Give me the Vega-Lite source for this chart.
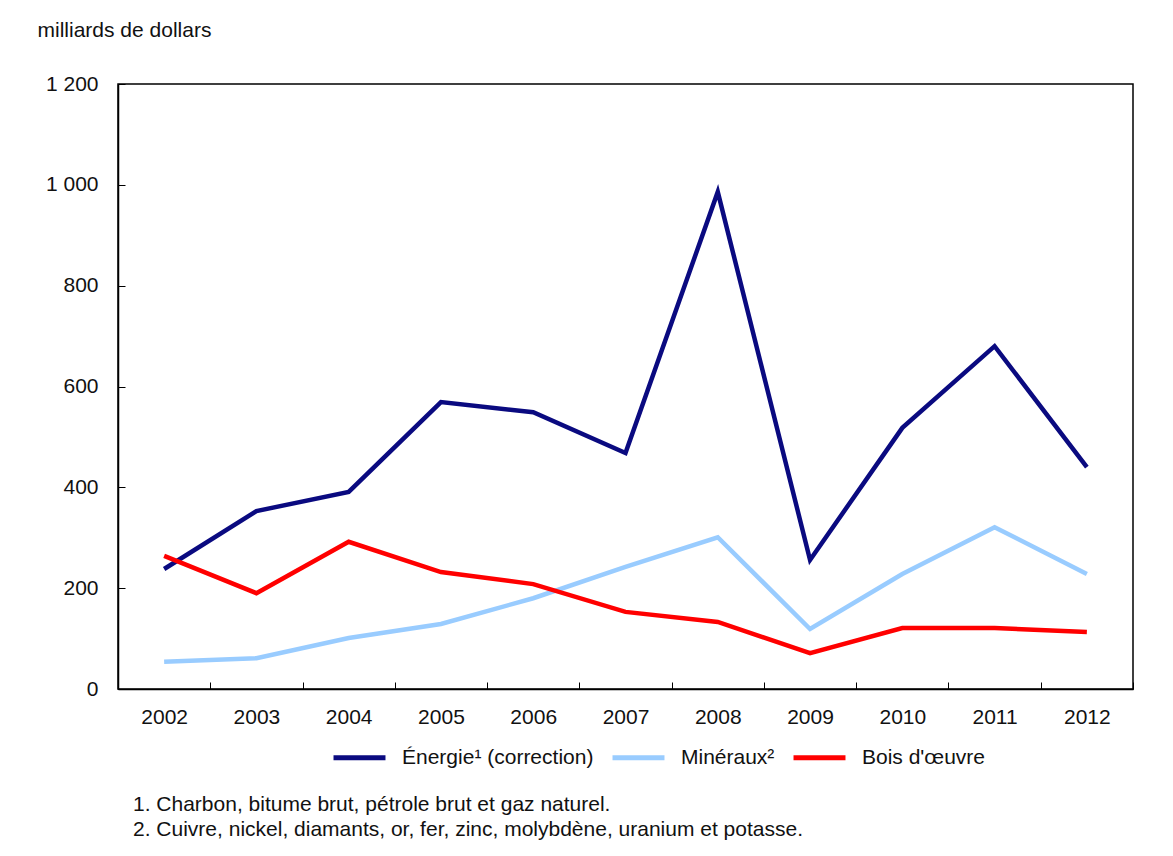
{
  "$schema": "https://vega.github.io/schema/vega-lite/v6.json",
  "width": 1015,
  "height": 605,
  "autosize": "none",
  "padding": {"left": 118, "top": 84, "right": 40, "bottom": 167},
  "background": "white",
  "config": {
    "font": "Liberation Sans",
    "view": {"stroke": "black", "strokeWidth": 1.5},
    "axis": {"grid": false, "domainColor": "black", "tickColor": "black", "labelColor": "#111", "labelFont": "Liberation Sans", "labelFontSize": 21, "titleFont": "Liberation Sans"}
  },
  "title": {
    "text": ["1. Charbon, bitume brut, pétrole brut et gaz naturel.", "2. Cuivre, nickel, diamants, or, fer, zinc, molybdène, uranium et potasse."],
    "orient": "bottom",
    "anchor": "start",
    "frame": "group",
    "dx": 15,
    "offset": 26,
    "fontSize": 21,
    "fontWeight": "normal",
    "color": "#111",
    "lineHeight": 25,
    "font": "Liberation Sans"
  },
  "data": {
    "values": [
      {"annee": "2002", "serie": "Énergie¹ (correction)", "valeur": 238},
      {"annee": "2003", "serie": "Énergie¹ (correction)", "valeur": 353},
      {"annee": "2004", "serie": "Énergie¹ (correction)", "valeur": 391},
      {"annee": "2005", "serie": "Énergie¹ (correction)", "valeur": 569},
      {"annee": "2006", "serie": "Énergie¹ (correction)", "valeur": 549},
      {"annee": "2007", "serie": "Énergie¹ (correction)", "valeur": 468},
      {"annee": "2008", "serie": "Énergie¹ (correction)", "valeur": 986},
      {"annee": "2009", "serie": "Énergie¹ (correction)", "valeur": 256},
      {"annee": "2010", "serie": "Énergie¹ (correction)", "valeur": 518},
      {"annee": "2011", "serie": "Énergie¹ (correction)", "valeur": 680},
      {"annee": "2012", "serie": "Énergie¹ (correction)", "valeur": 440},
      {"annee": "2002", "serie": "Minéraux²", "valeur": 54},
      {"annee": "2003", "serie": "Minéraux²", "valeur": 61},
      {"annee": "2004", "serie": "Minéraux²", "valeur": 101},
      {"annee": "2005", "serie": "Minéraux²", "valeur": 129},
      {"annee": "2006", "serie": "Minéraux²", "valeur": 180},
      {"annee": "2007", "serie": "Minéraux²", "valeur": 242},
      {"annee": "2008", "serie": "Minéraux²", "valeur": 301},
      {"annee": "2009", "serie": "Minéraux²", "valeur": 119},
      {"annee": "2010", "serie": "Minéraux²", "valeur": 228},
      {"annee": "2011", "serie": "Minéraux²", "valeur": 321},
      {"annee": "2012", "serie": "Minéraux²", "valeur": 228},
      {"annee": "2002", "serie": "Bois d'œuvre", "valeur": 264},
      {"annee": "2003", "serie": "Bois d'œuvre", "valeur": 190},
      {"annee": "2004", "serie": "Bois d'œuvre", "valeur": 292},
      {"annee": "2005", "serie": "Bois d'œuvre", "valeur": 232},
      {"annee": "2006", "serie": "Bois d'œuvre", "valeur": 208},
      {"annee": "2007", "serie": "Bois d'œuvre", "valeur": 153},
      {"annee": "2008", "serie": "Bois d'œuvre", "valeur": 133},
      {"annee": "2009", "serie": "Bois d'œuvre", "valeur": 71},
      {"annee": "2010", "serie": "Bois d'œuvre", "valeur": 121},
      {"annee": "2011", "serie": "Bois d'œuvre", "valeur": 121},
      {"annee": "2012", "serie": "Bois d'œuvre", "valeur": 113}
    ]
  },
  "mark": {"type": "line", "strokeWidth": 4.5},
  "encoding": {
    "x": {
      "field": "annee",
      "type": "ordinal",
      "bandPosition": 0.5,
      "scale": {"type": "band", "paddingInner": 0, "paddingOuter": 0},
      "axis": {"title": null, "labelAngle": 0, "tickBand": "extent", "tickSize": -7, "labelPadding": 24, "domainWidth": 1.5}
    },
    "y": {
      "field": "valeur",
      "type": "quantitative",
      "scale": {"domain": [0, 1200], "nice": false},
      "axis": {
        "values": [0, 200, 400, 600, 800, 1000, 1200],
        "labelExpr": "replace(format(datum.value, ','), ',', ' ')",
        "tickSize": -7,
        "labelPadding": 27,
        "domainWidth": 1.5,
        "title": "milliards de dollars",
        "titleAngle": 0,
        "titleAlign": "left",
        "titleBaseline": "middle",
        "titleX": -81,
        "titleY": -54,
        "titleFontSize": 21,
        "titleFontWeight": "normal",
        "titleColor": "#111"
      }
    },
    "color": {
      "field": "serie",
      "type": "nominal",
      "scale": {
        "domain": ["Énergie¹ (correction)", "Minéraux²", "Bois d'œuvre"],
        "range": ["#0a0a80", "#99ccff", "#ff0000"]
      },
      "legend": {
        "title": null,
        "orient": "none",
        "direction": "horizontal",
        "legendX": 213,
        "legendY": 645,
        "symbolType": "stroke",
        "symbolSize": 2700,
        "symbolStrokeWidth": 5,
        "labelFontSize": 21,
        "labelLimit": 400,
        "labelColor": "#111",
        "labelOffset": 14,
        "columnPadding": 8
      }
    }
  }
}
